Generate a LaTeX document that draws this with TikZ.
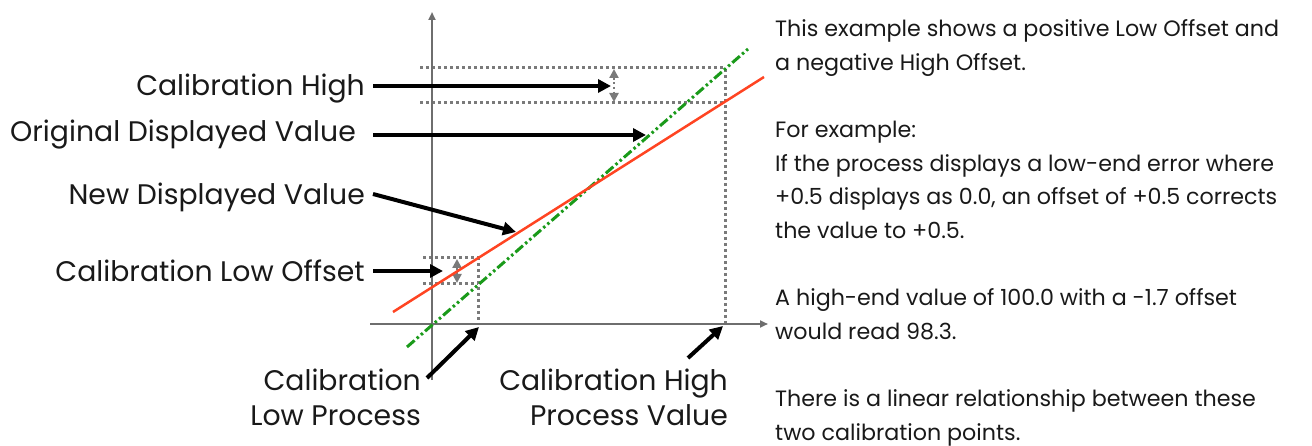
\documentclass[tikz,border=0pt]{standalone}
\usepackage{fontspec}
\setmainfont{Poppins}
\usetikzlibrary{arrows.meta}
\definecolor{axisgray}{HTML}{6E6E6E}
\definecolor{dotgray}{HTML}{7A7A7A}
\definecolor{redline}{HTML}{FF4422}
\definecolor{greenline}{HTML}{1A9A1A}
\begin{document}
\begin{tikzpicture}[x=1pt,y=-1pt,
  lbl/.style={font=\fontsize{28.3}{35}\selectfont, inner sep=0pt, text=black!90},
  body/.style={font=\fontsize{22.2}{33.6}\selectfont, inner sep=0pt, text=black!90, align=left},
  ptr/.style={line width=4pt, -{Triangle[length=13pt,width=13pt]}},
  axisline/.style={draw=axisgray, line width=2pt, -{Triangle[length=8pt,width=7pt]}},
  dotline/.style={draw=dotgray, line width=3pt, dash pattern=on 3pt off 3pt},
  dblarrow/.style={draw=dotgray, line width=2.2pt, dash pattern=on 2.2pt off 2.5pt, {Triangle[length=9pt,width=9pt]}-{Triangle[length=9pt,width=9pt]}},
  newline/.style={draw=redline, line width=2.5pt},
  origline/.style={draw=greenline, line width=3pt, dash pattern=on 10pt off 3pt on 2.5pt off 3pt on 2.5pt off 3pt}]
\useasboundingbox (0,0) rectangle (1312,446);
% coordinates
\coordinate (O) at (432,324);
\coordinate (yb) at (432,380);
\coordinate (yt) at (432,12);
\coordinate (xl) at (370,324);
\coordinate (xr) at (768,324);
\coordinate (HT) at (725,68);
\coordinate (HB) at (725,103);
\coordinate (HX) at (725,324);
\coordinate (HTL) at (420,68);
\coordinate (HBL) at (420,103);
\coordinate (LT) at (478,258);
\coordinate (LB) at (478,284);
\coordinate (LX) at (478,324);
\coordinate (LTL) at (423,258);
\coordinate (LBL) at (423,284);
\coordinate (d1a) at (614,69);
\coordinate (d1b) at (614,102);
\coordinate (d2a) at (457,259);
\coordinate (d2b) at (457,283);
\coordinate (r1) at (393,312);
\coordinate (r2) at (764,77);
\coordinate (g1) at (407,347);
\coordinate (g2) at (748,49);
% labels
\node[lbl, anchor=base east] (calhigh) at (365,96) {Calibration High};
\node[lbl, anchor=base east] (origdv) at (356,142) {Original Displayed Value};
\node[lbl, anchor=base east] (newdv) at (365,205) {New Displayed Value};
\node[lbl, anchor=base east] (caloff) at (365,282) {Calibration Low Offset};
\node[lbl, anchor=base east, align=right] (lowproc) at (421,425) {Calibration\\Low Process};
\node[lbl, anchor=base east, align=right] (highproc) at (728,425) {Calibration High\\Process Value};
\node[body, anchor=base west] (note) at (775,440) {This example shows a positive Low Offset and\\
a negative High Offset.\\
\mbox{}\\
For example:\\
If the process displays a low-end error where\\
+0.5 displays as 0.0, an offset of +0.5 corrects\\
the value to +0.5.\\
\mbox{}\\
A high-end value of 100.0 with a -1.7 offset\\
would read 98.3.\\
\mbox{}\\
There is a linear relationship between these\\
two calibration points.};
% arrow anchors
\coordinate (sCH) at (373,86);
\coordinate (tCH) at (611,86);
\coordinate (sOD) at (373,135);
\coordinate (tOD) at (646,135);
\coordinate (sND) at (373,194);
\coordinate (tND) at (516,232);
\coordinate (sLO) at (373,271);
\coordinate (tLO) at (443,271);
\coordinate (sLP) at (427,378);
\coordinate (tLP) at (479,327);
\coordinate (sHP) at (688,358);
\coordinate (tHP) at (723,326);
% dotted guides
\draw[dotline] (HTL) -- (HT) -- (HX);
\draw[dotline] (HBL) -- (HB);
\draw[dotline] (LTL) -- (LT) -- (LX);
\draw[dotline] (LBL) -- (LB);
% axes
\draw[axisline] (yb) -- (yt);
\draw[axisline] (xl) -- (xr);
% offsets
\draw[dblarrow] (d1a) -- (d1b);
\draw[dblarrow] (d2a) -- (d2b);
% lines
\draw[origline] (g1) -- (g2);
\draw[newline] (r1) -- (r2);
% pointers
\draw[ptr] (sCH) -- (tCH);
\draw[ptr] (sOD) -- (tOD);
\draw[ptr] (sND) -- (tND);
\draw[ptr] (sLO) -- (tLO);
\draw[ptr] (sLP) -- (tLP);
\draw[ptr] (sHP) -- (tHP);
\end{tikzpicture}
\end{document}
